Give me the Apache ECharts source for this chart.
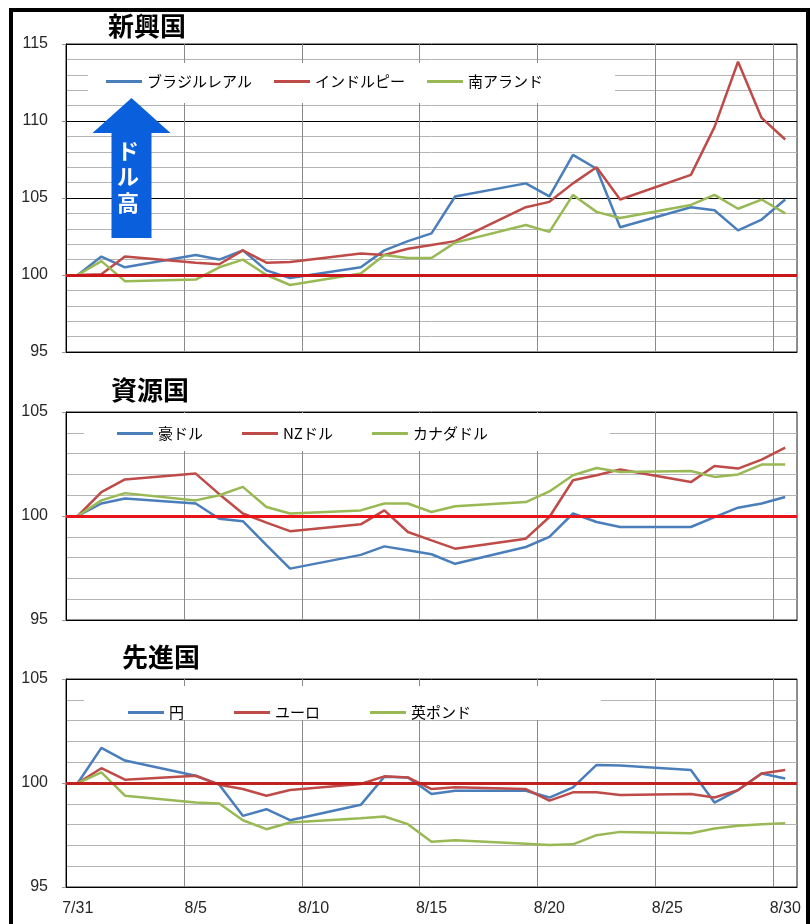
<!DOCTYPE html>
<html>
<head>
<meta charset="utf-8">
<script src="https://cdn.jsdelivr.net/npm/echarts@6/dist/echarts.min.js"></script>
<style>
html, body { margin: 0; padding: 0; background: #fff; }
#chart { width: 810px; height: 924px; }
</style>
</head>
<body>
<div id="chart"></div>
<script>
// calendar days on the x axis (one slot per day)
var days = ['7/31', '8/1', '8/2', '8/3', '8/4', '8/5', '8/6', '8/7', '8/8', '8/9', '8/10',
	'8/11', '8/12', '8/13', '8/14', '8/15', '8/16', '8/17', '8/18', '8/19', '8/20',
	'8/21', '8/22', '8/23', '8/24', '8/25', '8/26', '8/27', '8/28', '8/29', '8/30'];
// days with a quote
var tradeDays = ['7/31', '8/1', '8/2', '8/5', '8/6', '8/7', '8/8', '8/9', '8/12', '8/13', '8/14',
	'8/15', '8/16', '8/19', '8/20', '8/21', '8/22', '8/23', '8/26', '8/27', '8/28', '8/29', '8/30'];

// 新興国
var brl = [100, 101.2, 100.5, 101.3, 101.0, 101.6, 100.3, 99.8, 100.5, 101.6, 102.2, 102.7, 105.1, 105.95, 105.1, 107.8, 106.9, 103.1, 104.4, 104.2, 102.9, 103.6, 104.9];
var inr = [100, 100.05, 101.2, 100.8, 100.7, 101.6, 100.8, 100.85, 101.4, 101.3, 101.7, 101.95, 102.2, 104.4, 104.75, 105.95, 107.0, 104.9, 106.5, 109.6, 113.85, 110.2, 108.8];
var zar = [100, 100.9, 99.6, 99.7, 100.5, 101.0, 100.0, 99.35, 100.1, 101.3, 101.1, 101.1, 102.1, 103.25, 102.8, 105.2, 104.1, 103.7, 104.55, 105.2, 104.3, 104.9, 104.0];
// 資源国
var aud = [100, 100.6, 100.84, 100.6, 99.87, 99.75, 98.6, 97.47, 98.13, 98.54, 98.35, 98.16, 97.7, 98.51, 99.0, 100.12, 99.71, 99.47, 99.47, 99.95, 100.4, 100.6, 100.91];
var nzd = [100, 101.15, 101.76, 102.04, 101.05, 100.12, 99.68, 99.27, 99.6, 100.27, 99.23, 98.83, 98.43, 98.91, 99.95, 101.72, 101.96, 102.24, 101.63, 102.4, 102.28, 102.71, 103.29];
var cad = [100, 100.75, 101.1, 100.75, 101.0, 101.4, 100.43, 100.12, 100.27, 100.6, 100.6, 100.19, 100.47, 100.67, 101.18, 101.96, 102.31, 102.12, 102.16, 101.88, 102.0, 102.47, 102.47];
// 先進国
var jpy = [100, 101.69, 101.08, 100.35, 99.92, 98.42, 98.74, 98.21, 98.95, 100.3, 100.27, 99.47, 99.63, 99.63, 99.3, 99.79, 100.87, 100.84, 100.63, 99.06, 99.66, 100.46, 100.22];
var eur = [100, 100.71, 100.16, 100.35, 99.92, 99.71, 99.39, 99.66, 99.95, 100.32, 100.27, 99.71, 99.79, 99.71, 99.15, 99.55, 99.55, 99.42, 99.47, 99.3, 99.66, 100.46, 100.63];
var gbp = [100, 100.51, 99.39, 99.06, 99.01, 98.21, 97.78, 98.1, 98.31, 98.39, 98.02, 97.18, 97.25, 97.08, 97.02, 97.05, 97.49, 97.65, 97.58, 97.81, 97.94, 98.02, 98.07];

var panelTitles = ['新興国', '資源国', '先進国'];
var panelNames = [
	['ブラジルレアル', 'インドルピー', '南アランド'],
	['豪ドル', 'NZドル', 'カナダドル'],
	['円', 'ユーロ', '英ポンド']
];
var panelValues = [[brl, inr, zar], [aud, nzd, cad], [jpy, eur, gbp]];
var yMax = [115, 105, 105];

var lineColors = ['#4a7ebb', '#be4b48', '#98b954'];
var baseColors = ['#c8161b', '#e8141a', '#c0221f'];
var jp = '"Noto Sans CJK JP", sans-serif';
var num = '"Liberation Sans", Arial, sans-serif';

var grids = [
	{ left: 66, top: 44, width: 731, height: 308 },
	{ left: 66, top: 412, width: 731, height: 208 },
	{ left: 66, top: 679, width: 731, height: 208 }
];
var legendPos = [
	{ left: 88, top: 63, padding: [11, 72, 14, 18], itemGap: 22 },
	{ left: 84, top: 413, padding: [13, 122, 10, 33], itemGap: 39 },
	{ left: 84, top: 686, padding: [19, 130, 0, 44], itemGap: 50 }
];
var titlePos = [
	{ left: 108, top: 13 },
	{ left: 111, top: 377 },
	{ left: 122, top: 644 }
];

var option = {
	animation: false,
	backgroundColor: '#fff',
	title: [],
	legend: [],
	grid: [],
	xAxis: [],
	yAxis: [],
	series: [],
	graphic: [
		// outer frame
		{
			type: 'rect',
			shape: { x: 11, y: 10, width: 797, height: 940 },
			style: { fill: 'none', stroke: '#000', lineWidth: 4 },
			z: 100
		},
		// ドル高 arrow
		{
			type: 'polygon',
			shape: { points: [[131.5, 98], [92.5, 133], [111.5, 133], [111.5, 238], [151.5, 238], [151.5, 133], [170.5, 133]] },
			style: { fill: '#0a5fdc' },
			z: 100
		},
		{
			type: 'text',
			x: 128, y: 177,
			style: {
				text: 'ド\nル\n高', fill: '#fff', font: 'bold 22px ' + jp,
				align: 'center', verticalAlign: 'middle', lineHeight: 26
			},
			z: 101
		}
	]
};

for (var p = 0; p < 3; p++) {
	var g = grids[p];
	option.grid.push({
		left: g.left, top: g.top, width: g.width, height: g.height,
		show: true, borderColor: '#222', borderWidth: 1
	});
	option.title.push({
		text: panelTitles[p], left: titlePos[p].left, top: titlePos[p].top, padding: 0,
		textStyle: { fontFamily: jp, fontSize: 26, fontWeight: 'bold', color: '#000' }
	});
	option.legend.push({
		data: panelNames[p],
		left: legendPos[p].left, top: legendPos[p].top,
		padding: legendPos[p].padding, itemGap: legendPos[p].itemGap,
		backgroundColor: '#fff',
		icon: 'rect', itemWidth: 36, itemHeight: 3,
		textStyle: { fontFamily: jp, fontSize: 15, color: '#000' },
		selectedMode: false
	});
	option.xAxis.push({
		type: 'category', gridIndex: p, data: days, boundaryGap: true,
		axisLine: { lineStyle: { color: '#000', width: 1 } },
		axisTick: { show: false },
		axisLabel: {
			show: p === 2, interval: 4, margin: 14,
			fontFamily: num, fontSize: 16, color: '#262626'
		},
		splitLine: { show: true, interval: 4, lineStyle: { color: '#8a8a8a', width: 1 } }
	});
	option.yAxis.push({
		type: 'value', gridIndex: p, min: 95, max: yMax[p], interval: 5,
		axisLine: { show: true, lineStyle: { color: '#000', width: 1 } },
		axisTick: { show: true, length: 4, lineStyle: { color: '#999' } },
		axisLabel: { margin: 18, fontFamily: num, fontSize: 16, color: '#262626' },
		splitLine: { show: true, lineStyle: { color: '#000', width: 1 } },
		minorTick: { show: false, splitNumber: 5 },
		minorSplitLine: { show: true, lineStyle: { color: '#b4b4b4', width: 1 } }
	});
	for (var s = 0; s < 3; s++) {
		var vals = panelValues[p][s];
		var ser = {
			name: panelNames[p][s], type: 'line',
			xAxisIndex: p, yAxisIndex: p,
			symbol: 'none', smooth: false,
			color: lineColors[s],
			lineStyle: { width: 2.5, color: lineColors[s] },
			data: tradeDays.map(function (d, i) { return [d, vals[i]]; })
		};
		if (s === 0) {
			ser.markLine = {
				silent: true, symbol: ['none', 'none'],
				label: { show: false },
				lineStyle: { color: baseColors[p], width: 3, type: 'solid' },
				data: [{ yAxis: 100 }]
			};
		}
		option.series.push(ser);
	}
}

var chart = echarts.init(document.getElementById('chart'));
chart.setOption(option);
</script>
</body>
</html>
